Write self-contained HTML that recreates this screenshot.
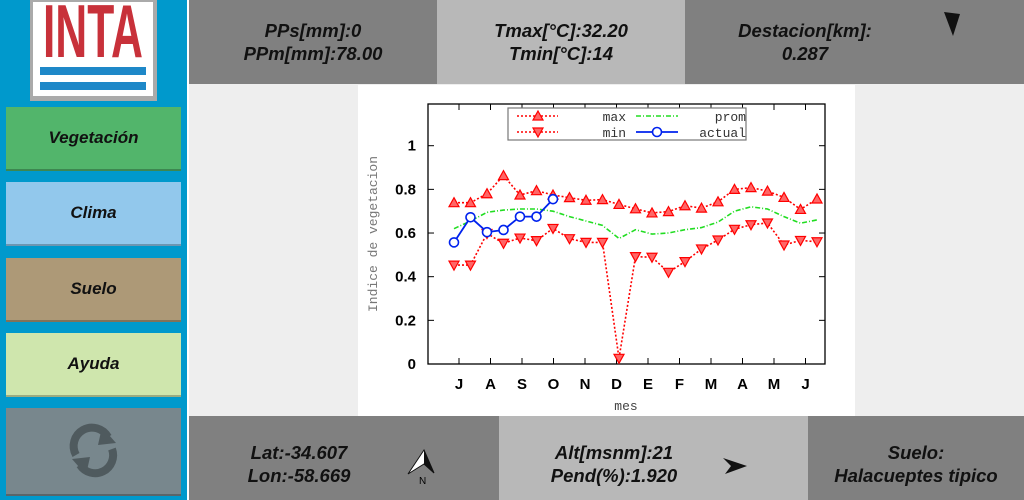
<!DOCTYPE html><html><head><meta charset="utf-8"><style>
body{margin:0;width:1024px;height:500px;overflow:hidden;position:relative;font-family:"Liberation Sans",sans-serif;background:#eee}
div{position:absolute;box-sizing:border-box}
.t{font-weight:bold;font-style:italic;font-size:18.5px;text-align:center;line-height:23px;color:#111;display:flex;flex-direction:column;justify-content:center}
.b{left:6px;width:175px;height:64px;font-weight:bold;font-style:italic;font-size:17px;display:flex;align-items:center;justify-content:center;color:#111;border-bottom:2px solid rgba(0,0,0,.25)}
</style></head><body>
<div style="left:0;top:0;width:187px;height:500px;background:#0099cc"></div>
<div style="left:187px;top:0;width:2px;height:500px;background:#fff"></div>
<div style="left:30px;top:0;width:127px;height:101px;background:#aaa"></div>
<div style="left:33px;top:2px;width:120px;height:94px;background:#fff;overflow:hidden"></div>
<div style="left:0px;top:-4px;width:186px;height:70px;color:#c8313a;font-weight:bold;font-size:75px;line-height:70px;text-align:center;transform:scaleX(0.59);transform-origin:93px 0">INTA</div>
<div style="left:40px;top:67px;width:106px;height:8px;background:#1e88c8"></div>
<div style="left:40px;top:82px;width:106px;height:8px;background:#1e88c8"></div>
<div class="b" style="top:107px;background:#52b56b">Vegetación</div>
<div class="b" style="top:182px;background:#92c8ec">Clima</div>
<div class="b" style="top:258px;background:#ad9977">Suelo</div>
<div class="b" style="top:333px;background:#cfe6ad">Ayuda</div>
<div class="b" style="top:408px;height:88px;background:#78878d"><svg width="60" height="60" viewBox="0 0 60 60"><path d="M12 34 A18 18 0 0 1 44 16" stroke="#4f5a5e" stroke-width="8" fill="none"/><path d="M38 6 L52 22 L34 24Z" fill="#4f5a5e"/><path d="M48 28 A18 18 0 0 1 16 44" stroke="#4f5a5e" stroke-width="8" fill="none"/><path d="M22 54 L8 38 L26 36Z" fill="#4f5a5e"/></svg></div>
<div style="left:189px;top:0;width:835px;height:84px;background:#808080"></div>
<div style="left:437px;top:0;width:248px;height:84px;background:#b8b8b8"></div>
<div class="t" style="left:189px;top:0;width:248px;height:84px">PPs[mm]:0<br>PPm[mm]:78.00</div>
<div class="t" style="left:437px;top:0;width:248px;height:84px">Tmax[°C]:32.20<br>Tmin[°C]:14</div>
<div class="t" style="left:685px;top:0;width:240px;height:84px">Destacion[km]:<br>0.287</div>
<div style="left:189px;top:416px;width:835px;height:84px;background:#808080"></div>
<div style="left:499px;top:416px;width:309px;height:84px;background:#b8b8b8"></div>
<div class="t" style="left:189px;top:416px;width:220px;height:84px;padding-top:12px">Lat:-34.607<br>Lon:-58.669</div>
<div class="t" style="left:499px;top:416px;width:230px;height:84px;padding-top:12px">Alt[msnm]:21<br>Pend(%):1.920</div>
<div class="t" style="left:808px;top:416px;width:216px;height:84px;padding-top:12px">Suelo:<br>Halacueptes tipico</div>
<div style="left:358px;top:85px;width:497px;height:331px;background:#fff"></div>
<svg style="position:absolute;left:0;top:0" width="1024" height="500">
<path d="M944 12 L960 14 L953 36Z" fill="#111"/>
<path d="M424 450 L434 473 L424 464 L408 474Z" fill="#fff" stroke="#111" stroke-width="1"/><path d="M424 450 L434 473 L424 464Z" fill="#111"/>
<text x="419" y="484" font-size="10" font-family="Liberation Sans">N</text>
<path d="M723 458 L747 466 L725 474 L731 466Z" fill="#111"/>
<g id="ch"></g>
</svg>
<script>
var X0=454,DX=16.5,Y0=364,S=218.3;
var mx=[.739,.739,.78,.863,.774,.794,.774,.762,.75,.753,.731,.711,.692,.698,.725,.714,.743,.8,.808,.792,.763,.708,.756];
var mn=[.453,.453,.598,.553,.577,.565,.621,.574,.557,.557,.026,.492,.489,.42,.469,.527,.568,.617,.638,.646,.545,.566,.56];
var pr=[.62,.655,.695,.705,.71,.71,.70,.675,.655,.635,.575,.615,.595,.60,.615,.625,.65,.70,.72,.71,.675,.645,.66];
var ac=[.557,.672,.604,.614,.675,.675,.755];
function px(i){return X0+i*DX}function py(v){return Y0-v*S}
function pts(a){return a.map(function(v,i){return px(i).toFixed(1)+","+py(v).toFixed(1)}).join(" ")}
var h='<rect x="428" y="104" width="397" height="260" fill="none" stroke="#000" stroke-width="1.3"/>';
var yl=["0","0.2","0.4","0.6","0.8","1"];
for(var k=0;k<6;k++){var y=Y0-k*.2*S;h+='<text x="416" y="'+(y+5)+'" text-anchor="end" font-size="15" font-weight="bold" font-family="Liberation Sans">'+yl[k]+'</text><line x1="428" x2="434" y1="'+y+'" y2="'+y+'" stroke="#000"/><line x1="819" x2="825" y1="'+y+'" y2="'+y+'" stroke="#000"/>';}
var ms="JASONDEFMAMJ";
for(k=0;k<12;k++){var x=459+k*31.5;h+='<text x="'+x+'" y="389" text-anchor="middle" font-size="15" font-weight="bold" font-family="Liberation Sans">'+ms[k]+'</text><line x1="'+x+'" x2="'+x+'" y1="364" y2="358" stroke="#000"/><line x1="'+x+'" x2="'+x+'" y1="104" y2="110" stroke="#000"/>';}
h+='<text x="626" y="410" text-anchor="middle" font-size="13" fill="#444" font-family="Liberation Mono">mes</text>';
h+='<text transform="translate(377,234) rotate(-90)" text-anchor="middle" font-size="13" fill="#777" font-family="Liberation Mono">Indice de vegetacion</text>';
h+='<polyline points="'+pts(pr)+'" fill="none" stroke="#22dd22" stroke-width="1.6" stroke-dasharray="5,2,1,2"/>';
h+='<polyline points="'+pts(mx)+'" fill="none" stroke="#f00" stroke-width="1.6" stroke-dasharray="2,2"/>';
h+='<polyline points="'+pts(mn)+'" fill="none" stroke="#f00" stroke-width="1.6" stroke-dasharray="2,2"/>';
function up(x,y){return '<path d="M'+x+' '+(y-5)+' L'+(x+5)+' '+(y+4)+' L'+(x-5)+' '+(y+4)+'Z" fill="#f66" stroke="#f00" stroke-width="1.2"/>'}
function dn(x,y){return '<path d="M'+x+' '+(y+5)+' L'+(x+5)+' '+(y-4)+' L'+(x-5)+' '+(y-4)+'Z" fill="#f66" stroke="#f00" stroke-width="1.2"/>'}
mx.forEach(function(v,i){h+=up(px(i),py(v))});mn.forEach(function(v,i){h+=dn(px(i),py(v))});
h+='<polyline points="'+pts(ac)+'" fill="none" stroke="#0022ee" stroke-width="1.8"/>';
ac.forEach(function(v,i){h+='<circle cx="'+px(i)+'" cy="'+py(v)+'" r="4.5" fill="#fff" stroke="#0022ee" stroke-width="1.6"/>'});
h+='<rect x="508" y="108" width="238" height="32" fill="#fff" stroke="#777" stroke-width="1.2"/>';
h+='<line x1="517" x2="558" y1="116" y2="116" stroke="#f00" stroke-width="1.6" stroke-dasharray="2,2"/>'+up(538,116);
h+='<line x1="517" x2="558" y1="132" y2="132" stroke="#f00" stroke-width="1.6" stroke-dasharray="2,2"/>'+dn(538,132);
h+='<line x1="636" x2="678" y1="116" y2="116" stroke="#22dd22" stroke-width="1.6" stroke-dasharray="5,2,1,2"/>';
h+='<line x1="636" x2="678" y1="132" y2="132" stroke="#0022ee" stroke-width="1.8"/><circle cx="657" cy="132" r="4.5" fill="#fff" stroke="#0022ee" stroke-width="1.6"/>';
h+='<g font-family="Liberation Mono" font-size="13" fill="#333" text-anchor="end"><text x="626" y="121">max</text><text x="626" y="137">min</text><text x="746" y="121">prom</text><text x="746" y="137">actual</text></g>';
document.getElementById("ch").innerHTML=h;
</script>
</body></html>
